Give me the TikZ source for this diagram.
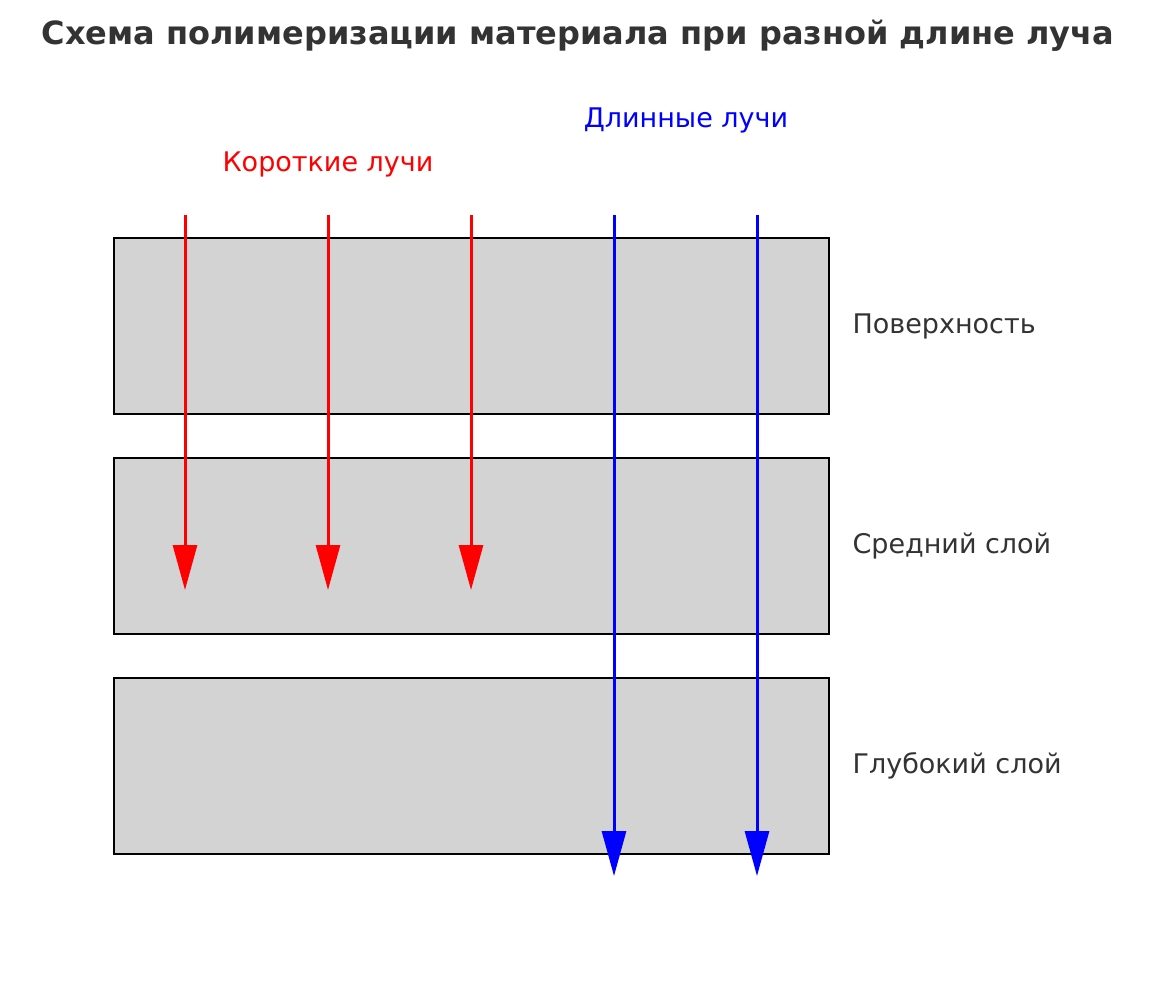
\documentclass[tikz,border=0pt]{standalone}
\usepackage{fontspec}
\setmainfont{DejaVu Sans}
\usetikzlibrary{arrows.meta}
\definecolor{txt}{HTML}{333333}
\definecolor{layer}{HTML}{D3D3D3}
\begin{document}
\begin{tikzpicture}[x=1pt,y=-1pt,
  layerbox/.style={draw=black,fill=layer,line width=2.5pt},
  ray/.style={line width=3pt,-{Triangle[length=45pt,width=24pt]}},
  lbl/.style={anchor=west,text=txt,font=\fontsize{27}{30}\selectfont}]
\useasboundingbox (0,0) rectangle (1156,1006);
\node[text=txt,font=\bfseries\fontsize{32}{36}\selectfont] (title) at (578,36) {Схема полимеризации материала при разной длине луча};
\draw[layerbox] (114,238) rectangle (829,414);
\draw[layerbox] (114,458) rectangle (829,634);
\draw[layerbox] (114,678) rectangle (829,854);
\node[lbl] (l1) at (849,326) {Поверхность};
\node[lbl] (l2) at (849,546) {Средний слой};
\node[lbl] (l3) at (849,766) {Глубокий слой};
\node[text=red,font=\fontsize{27}{30}\selectfont] (sh) at (328,164) {Короткие лучи};
\node[text=blue,font=\fontsize{27}{30}\selectfont] (lo) at (686,120) {Длинные лучи};
\foreach \x/\n in {185/a,328/b,471/c}{
  \coordinate (s\n) at (\x,215); \coordinate (e\n) at (\x,590);
  \draw[ray,red] (s\n) -- (e\n);}
\foreach \x/\n in {614/d,757/e}{
  \coordinate (s\n) at (\x,215); \coordinate (e\n) at (\x,876);
  \draw[ray,blue] (s\n) -- (e\n);}
\end{tikzpicture}
\end{document}
